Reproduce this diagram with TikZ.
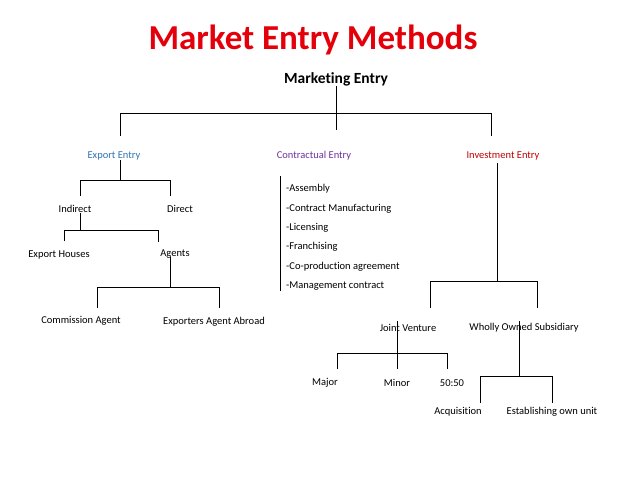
\documentclass[tikz,border=0pt]{standalone}
\usepackage{fontspec}
\setmainfont{Carlito}[Ligatures=NoCommon]
\definecolor{titlered}{RGB}{228,0,10}
\definecolor{exblue}{RGB}{46,116,181}
\definecolor{copurple}{RGB}{112,48,160}
\definecolor{invred}{RGB}{192,0,0}
\begin{document}
\begin{tikzpicture}[x=1pt,y=-1pt,
  lbl/.style={font=\fontsize{10.5}{12}\selectfont, inner sep=0pt},
  ln/.style={line width=0.9pt}]
\useasboundingbox (0,0) rectangle (638,479);
% title
\node[font=\fontsize{35}{40}\selectfont\bfseries, text=titlered, inner sep=0pt] (title) at (313,40) {Market Entry Methods};
\node[font=\fontsize{15.5}{18}\selectfont\bfseries, inner sep=0pt] (me) at (336,79) {Marketing Entry};
% level 1
\node[lbl, text=exblue] (ee) at (114,156) {Export Entry};
\node[lbl, text=copurple] (ce) at (314,156) {Contractual Entry};
\node[lbl, text=invred] (ie) at (503,156) {Investment Entry};
% export subtree
\node[lbl] (ind) at (75,209) {Indirect};
\node[lbl] (dir) at (180,209) {Direct};
\node[lbl] (eh) at (59,255) {Export Houses};
\node[lbl] (ag) at (175,254) {Agents};
\node[lbl] (ca) at (81,321) {Commission Agent};
\node[lbl] (eaa) at (214,322) {Exporters Agent Abroad};
% contractual list
\node[lbl, anchor=west] (c1) at (286,189) {-Assembly};
\node[lbl, anchor=west] (c2) at (286,209) {-Contract Manufacturing};
\node[lbl, anchor=west] (c3) at (286,228) {-Licensing};
\node[lbl, anchor=west] (c4) at (286,247) {-Franchising};
\node[lbl, anchor=west] (c5) at (286,267) {-Co-production agreement};
\node[lbl, anchor=west] (c6) at (286,286) {-Management contract};
% investment subtree
\node[lbl] (jv) at (408,328) {Joint Venture};
\node[lbl] (wos) at (524,328) {Wholly Owned Subsidiary};
\node[lbl] (maj) at (325,383) {Major};
\node[lbl] (min) at (397,383) {Minor};
\node[lbl] (ff) at (452,383) {50:50};
\node[lbl] (acq) at (458,412) {Acquisition};
\node[lbl] (est) at (552,412) {Establishing own unit};
% coordinates
\coordinate (j0) at (337,113);
\coordinate (eTop) at (120,136);
\coordinate (cTop) at (336,130);
\coordinate (iTop) at (491,136);
\coordinate (ej) at (120,180);
\coordinate (indT) at (80,196);
\coordinate (dirT) at (170,196);
\coordinate (ij) at (80,230);
\coordinate (ehT) at (64,241);
\coordinate (agT) at (158,242);
\coordinate (agS) at (170,257);
\coordinate (aj) at (170,287);
\coordinate (caT) at (97,308);
\coordinate (eaaT) at (219,308);
\coordinate (barT) at (280,176);
\coordinate (barB) at (280,291);
\coordinate (invS) at (497,163);
\coordinate (vj) at (497,281);
\coordinate (jvT) at (430,308);
\coordinate (wosT) at (537,308);
\coordinate (jvS) at (397,321);
\coordinate (jj) at (397,353);
\coordinate (majT) at (337,369);
\coordinate (minT) at (397,369);
\coordinate (ffT) at (447,369);
\coordinate (wS) at (519,321);
\coordinate (wj) at (519,376);
\coordinate (acqT) at (480,403);
\coordinate (estT) at (552,403);
% connectors
\draw[ln] (me.south) -- (me.south |- j0);
\draw[ln] (eTop) -- (eTop |- j0) -- (iTop |- j0) -- (iTop);
\draw[ln] (cTop) -- (cTop |- j0);
\draw[ln] (ee.south -| ej) -- (ej);
\draw[ln] (indT) -- (indT |- ej) -- (dirT |- ej) -- (dirT);
\draw[ln] (ind.south -| ij) -- (ij);
\draw[ln] (ehT) -- (ehT |- ij) -- (agT |- ij) -- (agT);
\draw[ln] (agS) -- (aj);
\draw[ln] (caT) -- (caT |- aj) -- (eaaT |- aj) -- (eaaT);
\draw[ln] (barT) -- (barB);
\draw[ln] (invS) -- (vj);
\draw[ln] (jvT) -- (jvT |- vj) -- (wosT |- vj) -- (wosT);
\draw[ln] (jvS) -- (jj);
\draw[ln] (majT) -- (majT |- jj) -- (ffT |- jj) -- (ffT);
\draw[ln] (minT |- jj) -- (minT);
\draw[ln] (wS) -- (wj);
\draw[ln] (acqT) -- (acqT |- wj) -- (estT |- wj) -- (estT);
\end{tikzpicture}
\end{document}
